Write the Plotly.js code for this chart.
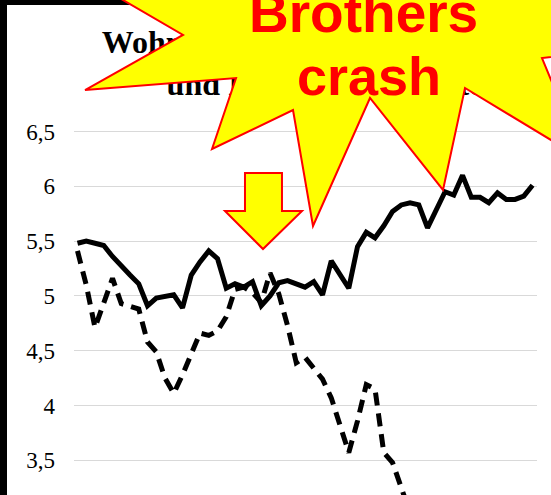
<!DOCTYPE html>
<html>
<head>
<meta charset="utf-8">
<script src="https://cdn.plot.ly/plotly-3.0.1.min.js"></script>
<style>
  html, body { margin: 0; padding: 0; background: #fff; overflow: hidden; }
  #chart { width: 551px; height: 495px; }
</style>
</head>
<body>
<div id="chart"></div>
<script>
// ---------- data ----------
const quarters = [
  "2003 Q1","2003 Q2","2003 Q3","2003 Q4","2004 Q1","2004 Q2","2004 Q3","2004 Q4",
  "2005 Q1","2005 Q2","2005 Q3","2005 Q4","2006 Q1","2006 Q2","2006 Q3","2006 Q4",
  "2007 Q1","2007 Q2","2007 Q3","2007 Q4","2008 Q1","2008 Q2","2008 Q3","2008 Q4",
  "2009 Q1","2009 Q2","2009 Q3","2009 Q4","2010 Q1","2010 Q2","2010 Q3","2010 Q4",
  "2011 Q1","2011 Q2","2011 Q3","2011 Q4","2012 Q1","2012 Q2","2012 Q3","2012 Q4",
  "2013 Q1","2013 Q2","2013 Q3","2013 Q4","2014 Q1","2014 Q2","2014 Q3","2014 Q4",
  "2015 Q1","2015 Q2","2015 Q3","2015 Q4","2016 Q1"
];
const solidSeries = [
  5.48, 5.50, 5.48, 5.46, 5.36, 5.27, 5.19, 5.11, 4.91, 4.98,
  4.99, 5.01, 4.89, 5.19, 5.31, 5.41, 5.34, 5.07, 5.11, 5.08,
  5.13, 4.91, 5.00, 5.12, 5.14, 5.11, 5.08, 5.13, 5.01, 5.32,
  5.20, 5.07, 5.45, 5.58, 5.53, 5.64, 5.77, 5.83, 5.85, 5.83,
  5.62, 5.78, 5.95, 5.92, 6.10, 5.90, 5.90, 5.85, 5.94, 5.88,
  5.88, 5.91, 6.01
];
const dashedSeries = [
  5.41, 5.10, 4.71, 4.93, 5.16, 4.93, 4.91, 4.88, 4.58, 4.49,
  4.25, 4.11, 4.28, 4.46, 4.66, 4.64, 4.68, 4.81, 5.06, 5.08,
  5.03, 4.94, 5.21, 5.02, 4.73, 4.39, 4.44, 4.34, 4.24, 4.07,
  3.82, 3.57, 3.86, 4.19, 4.15, 3.57, 3.48, 3.27, 3.02, 2.92,
  2.85, 2.80, 2.76, 2.70, 2.68, 2.62, 2.60, 2.57, 2.55, 2.52,
  2.50, 2.48, 2.45
];
const yTickVals = [3.5, 4, 4.5, 5, 5.5, 6, 6.5];
const yTickText = ["3,5", "4", "4,5", "5", "5,5", "6", "6,5"];
const titleText = "Wohnungsbauinvestitionen in %<br>und Immobilienkredite";
const calloutLines = ["Brothers", "crash"];

// ---------- geometry helpers (decorations only) ----------
const W = 551, H = 495, ML = 74, MR = 14, MT = 100, MB = 0;
const PW = W - ML - MR, PH = H - MT - MB;
const fx = x => (x - ML) / PW;
const fy = y => (H - MB - y) / PH;
const pathOf = pts => "M" + pts.map(p => fx(p[0]).toFixed(4) + "," + fy(p[1]).toFixed(4)).join("L") + "Z";

const starPts = [[85,90],[236,78],[212,149],[293,110],[313,226],[370,98],[443,190],[465,88],
                 [584,160],[542,58],[650,45],[640,-80],[150,-80],[80,-25],[183,35]];
const arrowPts = [[245,173],[282,173],[282,211],[302,211],[263,249],[225,211],[245,211]];

const traces = [
  { x: quarters, y: solidSeries, type: "scatter", mode: "lines",
    line: { color: "#000000", width: 5 }, hoverinfo: "skip" },
  { x: quarters, y: dashedSeries, type: "scatter", mode: "lines",
    line: { color: "#000000", width: 5, dash: "13px,8px" }, hoverinfo: "skip" }
];

const calloutFont = { family: "Liberation Sans, Arial, sans-serif", size: 55, color: "#ff0000", weight: "bold" };

const layout = {
  width: W, height: H,
  margin: { l: ML, r: MR, t: MT, b: MB, pad: 0 },
  paper_bgcolor: "#ffffff", plot_bgcolor: "#ffffff",
  showlegend: false,
  separators: ",.",
  title: {
    text: titleText,
    font: { family: "Liberation Serif, Times New Roman, serif", size: 32, color: "#000000", weight: "bold" },
    x: 325 / W, xanchor: "center", xref: "container",
    y: 1 - 53 / H, yanchor: "top", yref: "container"
  },
  xaxis: {
    type: "category", range: [-0.4, 52.51],
    showgrid: false, zeroline: false, showline: false, showticklabels: false, ticks: ""
  },
  yaxis: {
    range: [3.1834, 6.7874], tickvals: yTickVals, ticktext: yTickText,
    showgrid: true, gridcolor: "#d9d9d9", gridwidth: 1,
    zeroline: false, showline: false, ticks: "", ticklabelstandoff: 18,
    tickfont: { family: "Liberation Serif, Times New Roman, serif", size: 23, color: "#000000" }
  },
  shapes: [
    { type: "rect", xref: "paper", yref: "paper", x0: fx(0), x1: fx(7), y0: fy(H), y1: fy(0),
      fillcolor: "#000000", line: { width: 0 }, layer: "above" },
    { type: "rect", xref: "paper", yref: "paper", x0: fx(0), x1: fx(W), y0: fy(5), y1: fy(0),
      fillcolor: "#000000", line: { width: 0 }, layer: "above" },
    { type: "path", xref: "paper", yref: "paper", path: pathOf(starPts),
      fillcolor: "#ffff00", line: { color: "#ff0000", width: 2 }, layer: "above" },
    { type: "path", xref: "paper", yref: "paper", path: pathOf(arrowPts),
      fillcolor: "#ffff00", line: { color: "#ff0000", width: 2 }, layer: "above" }
  ],
  annotations: [
    { text: calloutLines[0], xref: "paper", yref: "paper", x: fx(363.5), y: fy(13),
      xanchor: "center", yanchor: "middle", showarrow: false, font: calloutFont },
    { text: calloutLines[1], xref: "paper", yref: "paper", x: fx(369), y: fy(76),
      xanchor: "center", yanchor: "middle", showarrow: false, font: Object.assign({}, calloutFont, { size: 54 }) }
  ]
};

Plotly.newPlot("chart", traces, layout, { staticPlot: true, displayModeBar: false }).then(gd => {
  // the callout star sits on top of the chart title, as in the original slide
  const title = gd.querySelector(".g-gtitle");
  const above = gd.querySelector("svg.main-svg .layer-above");
  if (title && above) above.parentNode.insertBefore(title, above);
});
</script>
</body>
</html>
